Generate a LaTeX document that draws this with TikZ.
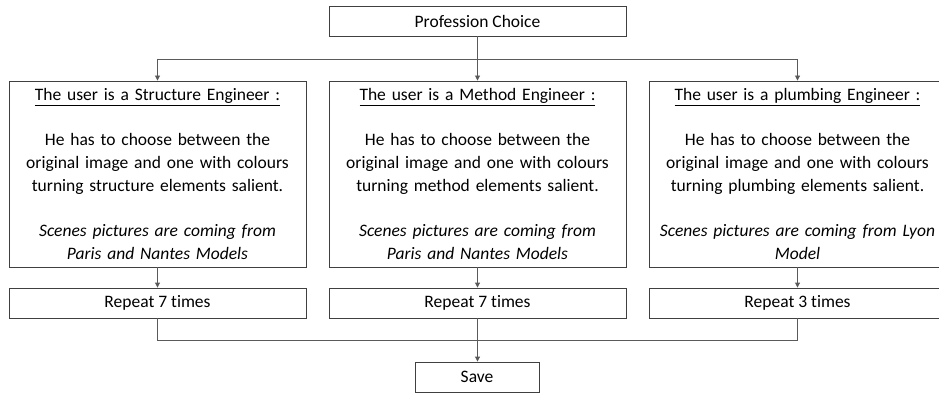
\documentclass[tikz,border=0pt]{standalone}
\usepackage{fontspec}
\setmainfont{Carlito}[Ligatures={NoCommon,TeX}]
\usetikzlibrary{arrows.meta}
\definecolor{boxline}{HTML}{404040}
\definecolor{connline}{HTML}{5A5A5A}
\tikzset{
  box/.style={draw=boxline, line width=0.9pt, inner sep=0pt, align=center,
    font=\fontsize{17.5}{22.7}\selectfont},
  bigbox/.style={box, minimum width=297pt, minimum height=186pt, text width=290pt},
  smallbox/.style={box, minimum width=297pt, minimum height=30pt},
  conn/.style={draw=connline, line width=0.9pt},
  arr/.style={conn, -{Triangle[length=5pt,width=5pt]}}
}
\begin{document}
\begin{tikzpicture}[x=1pt,y=-1pt]
\useasboundingbox (0,0) rectangle (939,393);
\node[smallbox] (pc) at (477.5,21) {Profession Choice};
\node[bigbox] (s1) at (157.5,174) {\underline{The user is a Structure Engineer :}\\[22.7pt]
He has to choose between the\\ original image and one with colours\\ turning structure elements salient.\\[22.7pt]
\itshape Scenes pictures are coming from\\ \itshape Paris and Nantes Models};
\node[bigbox] (s2) at (477.5,174) {\underline{The user is a Method Engineer :}\\[22.7pt]
He has to choose between the\\ original image and one with colours\\ turning method elements salient.\\[22.7pt]
\itshape Scenes pictures are coming from\\ \itshape Paris and Nantes Models};
\node[bigbox] (s3) at (797.5,174) {\underline{The user is a plumbing Engineer :}\\[22.7pt]
He has to choose between the\\ original image and one with colours\\ turning plumbing elements salient.\\[22.7pt]
\itshape Scenes pictures are coming from Lyon\\ \itshape Model};
\node[smallbox] (r1) at (157.5,303) {Repeat 7 times};
\node[smallbox] (r2) at (477.5,303) {Repeat 7 times};
\node[smallbox] (r3) at (797.5,303) {Repeat 3 times};
\node[box, minimum width=124pt, minimum height=30pt] (save) at (477,377) {Save};
\coordinate (jt) at (477.5,59);
\coordinate (jb) at (477.5,340);
\draw[arr] (pc) -- (s2);
\draw[conn] (s1.north |- jt) -- (s3.north |- jt);
\draw[arr] (s1.north |- jt) -- (s1.north);
\draw[arr] (s3.north |- jt) -- (s3.north);
\draw[arr] (s1) -- (r1);
\draw[arr] (s2) -- (r2);
\draw[arr] (s3) -- (r3);
\draw[conn] (r1.south) -- (r1.south |- jb) -- (r3.south |- jb) -- (r3.south);
\draw[arr] (r2.south) -- (save.north -| r2.south);
\end{tikzpicture}
\end{document}
